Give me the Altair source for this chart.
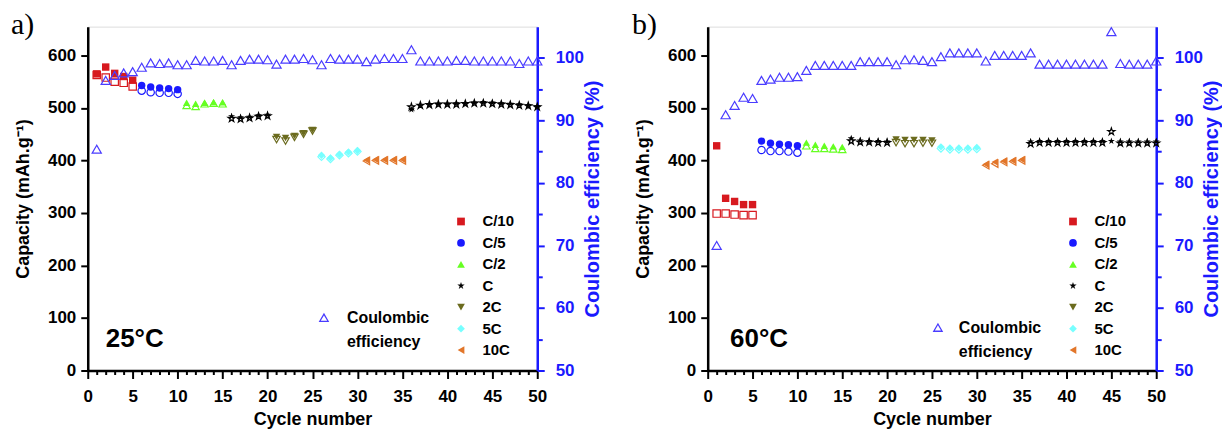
import altair as alt
import pandas as pd

# ---------------- data ----------------
cycles = list(range(1, 51))
rates = ["C/10", "C/5", "C/2", "C", "2C", "5C", "10C"]
rate_colors = ["#d7191f", "#1a1aff", "#66ff22", "#000000", "#6b6b1e", "#77ffff", "#e2762a"]
star = ("M0,-1L0.2245,-0.309L0.951,-0.309L0.363,0.118L0.588,0.809L0,0.382"
        "L-0.588,0.809L-0.363,0.118L-0.951,-0.309L-0.2245,-0.309Z")
rate_shapes = ["square", "circle", "triangle-up", star, "triangle-down", "diamond", "triangle-left"]
# rate applied to each block of cycles
seg_rates = ["C/10", "C/5", "C/2", "C", "2C", "5C", "10C", "C"]
seg_lengths = [5, 5, 5, 5, 5, 5, 5, 15]

# 25 °C
a_discharge = [565, 578, 566, 560, 553,
               543, 540, 538, 537, 535,
               510, 508, 510, 511, 511,
               484, 482, 483, 486, 487,
               445, 443, 447, 452, 458,
               410, 405, 412, 416, 419,
               401, 402, 402, 402, 402,
               497, 505, 507, 508, 508, 509, 509, 510, 511, 510, 509, 508, 507, 505, 503]
a_charge = [563, 558, 550, 548, 541,
            533, 530, 529, 529, 527,
            505, 503, 508, 509, 508,
            480, 479, 481, 484, 485,
            440, 437, 444, 450, 456,
            407, 403, 410, 414, 417,
            399, 400, 400, 400, 400,
            502, 505, 506, 507, 507, 507, 508, 509, 509, 508, 507, 506, 505, 504, 502]
a_ce = [85.4, 96.4, 97.2, 97.6, 97.8, 98.5, 99.2, 99.1, 99.2, 98.9,
        98.9, 99.6, 99.5, 99.5, 99.6, 98.9, 99.6, 99.8, 99.8, 99.7,
        99.0, 99.8, 99.8, 99.9, 99.7, 98.9, 99.9, 99.8, 99.8, 99.8,
        99.4, 99.8, 99.9, 99.9, 99.9, 101.3, 99.5, 99.5, 99.5, 99.5,
        99.6, 99.6, 99.5, 99.5, 99.5, 99.5, 99.5, 99.1, 99.5, 99.5]

# 60 °C
b_discharge = [428, 328, 322, 316, 316,
               437, 433, 431, 430, 428,
               434, 430, 428, 427, 426,
               442, 438, 437, 437, 436,
               440, 439, 439, 439, 438,
               426, 424, 424, 424, 425,
               393, 397, 399, 400, 402,
               436, 437, 437, 437, 437, 437, 437, 437, 437, 437, 436, 436, 436, 436, 436]
b_charge = [299, 299, 297, 296, 296,
            420, 418, 418, 417, 415,
            428, 423, 423, 422, 421,
            437, 435, 435, 434, 434,
            434, 432, 432, 433, 433,
            423, 421, 421, 421, 422,
            391, 394, 397, 398, 400,
            432, 434, 434, 434, 434, 434, 434, 434, 434, 455, 433, 433, 433, 433, 433]
b_ce = [70.0, 90.9, 92.4, 93.7, 93.5, 96.4, 96.6, 96.9, 96.9, 97.0,
        98.0, 98.8, 98.8, 98.8, 98.8, 98.8, 99.4, 99.4, 99.4, 99.4,
        98.9, 99.7, 99.7, 99.6, 99.4, 100.2, 100.8, 100.8, 100.8, 100.8,
        99.5, 100.4, 100.4, 100.4, 100.4, 100.8, 99.0, 99.0, 99.0, 99.0,
        99.0, 99.0, 99.0, 99.0, 104.2, 99.1, 99.0, 99.0, 99.0, 99.5]

panel_labels = ["a)", "b)"]
temperatures = ["25°C", "60°C"]
temp_x = [2.0, 2.5]
temp_y = [44, 44]
ce_label = "Coulombic efficiency"

x_ticks = list(range(0, 51))
cap_ticks = [0, 100, 200, 300, 400, 500, 600]
ce_ticks = list(range(50, 101, 5))

FONT = "Liberation Sans"
BLUE = "#1a1aff"
CE_COLOR = "#4a3cff"

rate_col = []
for r, n in zip(seg_rates, seg_lengths):
    rate_col += [r] * n


def panel(discharge, charge, ce, plabel, temp, tx, ty, width, leg_xy, ce_leg_xy, ce_off, lab_dx):
    df = pd.DataFrame({"cycle": cycles, "discharge": discharge, "charge": charge,
                       "rate": rate_col, "ce": ce, "ce_label": [ce_label] * len(cycles)})
    tdf = pd.DataFrame({"cycle": [tx], "cap": [ty], "t": [temp]})
    ldf = pd.DataFrame({"t": [plabel]})

    xaxis = alt.Axis(values=x_ticks, labelExpr="datum.value % 5 === 0 ? datum.label : ''",
                     tickSize={"condition": {"test": "datum.value % 5 === 0", "value": 8}, "value": 4},
                     title="Cycle number", labelOverlap=False, labelFlush=False,
                     labelFont=FONT, labelFontWeight="bold", labelFontSize=17, labelColor="black",
                     titleFont=FONT, titleFontWeight="bold", titleFontSize=18, titleColor="black",
                     labelPadding=10, titlePadding=6, domainColor="black", tickColor="black",
                     domainWidth=2.5, tickWidth=2, grid=False)
    x = alt.X("cycle:Q", scale=alt.Scale(domain=[0, 50], nice=False, zero=False), axis=xaxis)

    cap_axis = alt.Axis(values=cap_ticks, title="Capacity (mAh.g⁻¹)", tickSize=7,
                        labelFont=FONT, labelFontWeight="bold", labelFontSize=17, labelColor="black",
                        titleFont=FONT, titleFontWeight="bold", titleFontSize=18, titleColor="black",
                        labelPadding=5, titlePadding=15, domainColor="black", tickColor="black",
                        domainWidth=2.5, tickWidth=2, grid=False)
    cap_scale = alt.Scale(domain=[0, 655], nice=False, zero=True)

    leg = alt.Legend(title=None, orient="none", legendX=leg_xy[0], legendY=leg_xy[1],
                     labelFont=FONT, labelFontWeight="bold", labelFontSize=15,
                     symbolSize=60, labelOffset=14, rowPadding=5.5, padding=0,
                     symbolStrokeWidth=0)
    cscale = alt.Scale(domain=rates, range=rate_colors)
    sscale = alt.Scale(domain=rates, range=rate_shapes)

    filled = alt.Chart(df).mark_point(filled=True, size=55, opacity=1).encode(
        x=x,
        y=alt.Y("discharge:Q", scale=cap_scale, axis=cap_axis),
        color=alt.Color("rate:N", scale=cscale, legend=leg),
        shape=alt.Shape("rate:N", scale=sscale, legend=leg),
    )
    opened = alt.Chart(df).mark_point(filled=False, size=55, strokeWidth=1.2, opacity=1).encode(
        x=x,
        y=alt.Y("charge:Q", scale=cap_scale, axis=cap_axis),
        color=alt.Color("rate:N", scale=cscale, legend=None),
        shape=alt.Shape("rate:N", scale=sscale, legend=None),
    )
    text = alt.Chart(tdf).mark_text(align="left", baseline="alphabetic", font=FONT,
                                    fontWeight="bold", fontSize=26, color="black").encode(
        x=x,
        y=alt.Y("cap:Q", scale=cap_scale, axis=cap_axis),
        text="t:N",
    )
    label = alt.Chart(ldf).mark_text(align="left", baseline="alphabetic", font="Liberation Serif",
                                     fontSize=30, color="black").encode(
        x=alt.value(lab_dx), y=alt.value(7), text="t:N",
    )
    rate_layer = alt.layer(filled, opened, text, label).resolve_scale(
        color="independent", shape="independent"
    )

    ce_axis = alt.Axis(orient="right", values=ce_ticks,
                       labelExpr="datum.value % 10 === 0 ? datum.label : ''",
                       tickSize={"condition": {"test": "datum.value % 10 === 0", "value": 7}, "value": 5},
                       title="Coulombic efficiency (%)", titleAngle=270, titleBaseline="bottom",
                       labelOverlap=False, labelFlush=False,
                       labelFont=FONT, labelFontWeight="bold", labelFontSize=17,
                       titleFont=FONT, titleFontWeight="bold", titleFontSize=20,
                       domainColor=BLUE, tickColor=BLUE, labelColor=BLUE, titleColor=BLUE,
                       domainWidth=2.5, tickWidth=2, grid=False,
                       labelPadding=11, titlePadding=19)
    ce_leg = alt.Legend(title=None, orient="none", legendX=ce_leg_xy[0], legendY=ce_leg_xy[1],
                        labelFont=FONT, labelFontWeight="bold", labelFontSize=16,
                        symbolSize=70, labelOffset=ce_off, padding=0, labelBaseline="middle",
                        symbolFillColor="transparent", symbolStrokeColor=CE_COLOR,
                        symbolStrokeWidth=1.3,
                        labelExpr="['Coulombic', 'efficiency']")
    ce_layer = alt.Chart(df).mark_point(filled=False, size=85, strokeWidth=1.2, opacity=1,
                                        color=CE_COLOR).encode(
        x=x,
        y=alt.Y("ce:Q", scale=alt.Scale(domain=[50, 105], nice=False, zero=False), axis=ce_axis),
        shape=alt.Shape("ce_label:N", scale=alt.Scale(domain=[ce_label], range=["triangle-up"]),
                        legend=ce_leg),
    )
    return alt.layer(rate_layer, ce_layer).resolve_scale(
        y="independent", shape="independent"
    ).properties(width=width, height=345)


pa = panel(a_discharge, a_charge, a_ce, panel_labels[0], temperatures[0], temp_x[0], temp_y[0],
           451, (367, 188), (229, 284), 15, -77)
pb = panel(b_discharge, b_charge, b_ce, panel_labels[1], temperatures[1], temp_x[1], temp_y[1],
           450, (359, 188), (223, 294), 13, -76)

chart = alt.hconcat(pa, pb, spacing=171, bounds="flush").resolve_scale(
    color="independent", shape="independent"
).properties(
    padding={"left": 2, "top": 0, "right": 0, "bottom": 0}
).configure_view(
    stroke="black", strokeWidth=2
).configure(
    style={"guide-label": {"lineHeight": 24}}
)

chart.save("out.html", embed_options={"renderer": "svg", "actions": False})
